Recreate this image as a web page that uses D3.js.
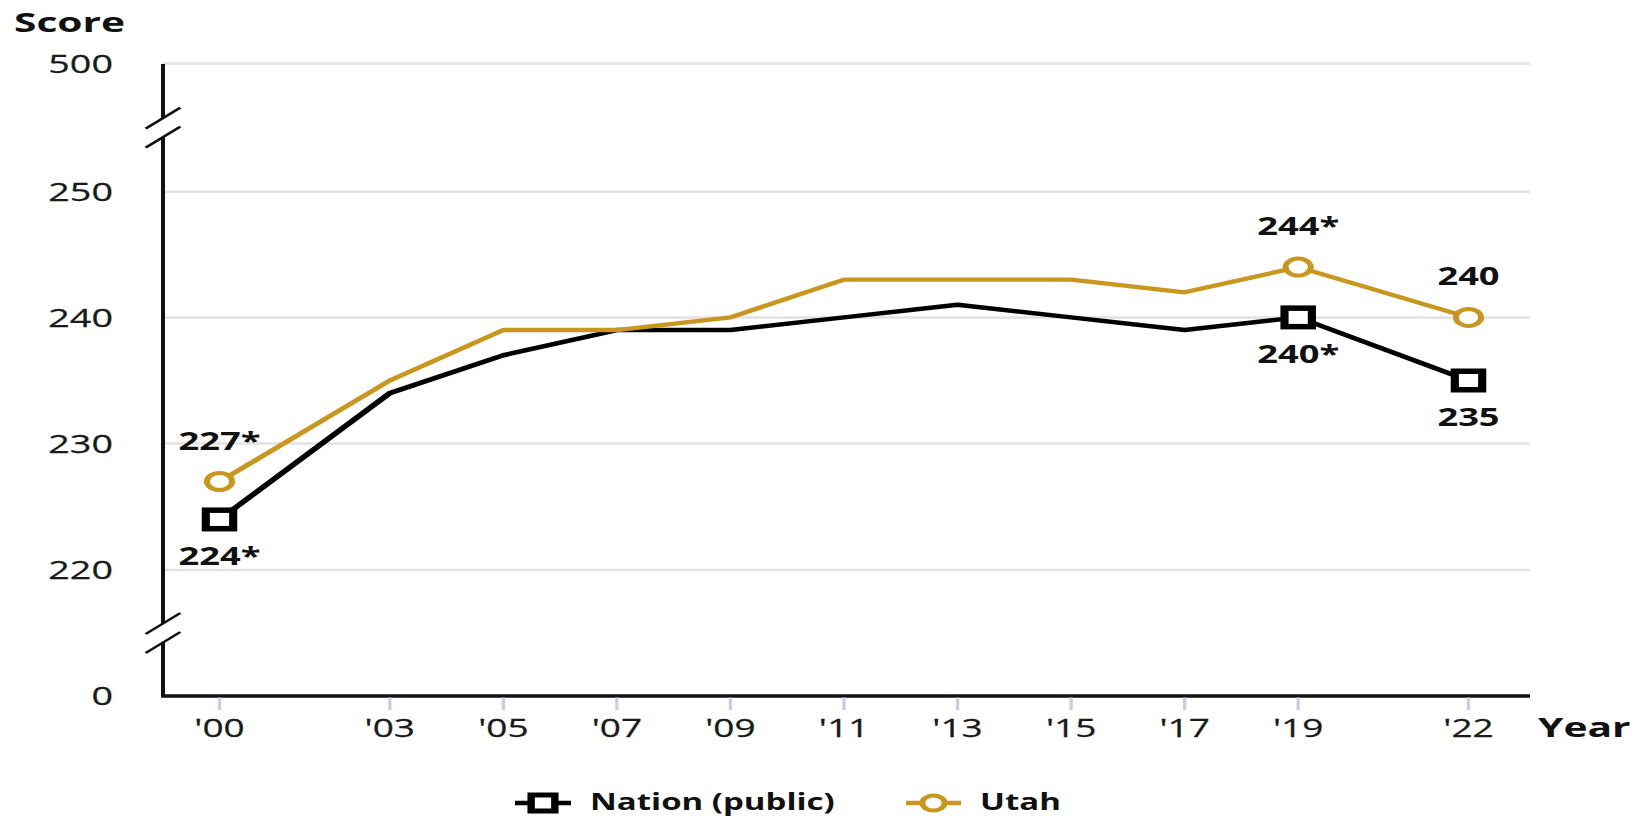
<!DOCTYPE html>
<html><head><meta charset="utf-8">
<script src="https://cdn.jsdelivr.net/npm/d3@7"></script>
<style>html,body{margin:0;padding:0;background:#fff;overflow:hidden}</style>
</head><body><svg id="c"></svg>
<script>
// ---- data ----
const years = [2000, 2003, 2005, 2007, 2009, 2011, 2013, 2015, 2017, 2019, 2022];
const tickLabels = ["'00", "'03", "'05", "'07", "'09", "'11", "'13", "'15", "'17", "'19", "'22"];
const nation = [224, 234, 237, 239, 239, 240, 241, 240, 239, 240, 235];
const utah = [227, 235, 239, 239, 240, 243, 243, 243, 242, 244, 240];
const nationLabels = [["2000", "224*"], ["2019", "240*"], ["2022", "235"]];
const utahLabels = [["2000", "227*"], ["2019", "244*"], ["2022", "240"]];
const yTicks = [0, 220, 230, 240, 250, 500];
const gridValues = [220, 230, 240, 250, 500];
const breakValues = [375, 110];
const seriesNames = ["Nation (public)", "Utah"];

// ---- layout ----
const W = 1643, H = 817, SX = 1.48;
const LW = W / SX;
const GOLD = "#C9961E";
const svg = d3.select("#c").attr("width", W).attr("height", H)
  .attr("viewBox", `0 0 ${LW} ${H}`).attr("preserveAspectRatio", "none");

const axisX = 163 / SX, plotRight = 1530 / SX;
const x = d3.scaleLinear().domain([2000, 2022]).range([219.5 / SX, 1468.5 / SX]);
const y = d3.scaleLinear().domain(yTicks).range([696, 570, 443.6, 317.4, 191.7, 63.5]);
const font = "'Open Sans', 'Noto Sans', sans-serif";

// gridlines
svg.append("g").selectAll("line").data(gridValues).join("line")
  .attr("x1", axisX).attr("x2", plotRight)
  .attr("y1", d => y(d)).attr("y2", d => y(d))
  .attr("stroke", "#e2e2e2").attr("stroke-width", 2.5);

// y tick labels
svg.append("g").selectAll("text").data(yTicks).join("text")
  .attr("x", 113 / SX).attr("y", d => y(d)).attr("dy", "0.36em")
  .attr("text-anchor", "end").attr("font-family", font).attr("font-size", 25.5)
  .attr("fill", "#1a1a1a").attr("stroke", "#1a1a1a").attr("stroke-width", 0.25).text(d => d);

// y axis with breaks
const gapHalf = 9.5, slashHalfW = 11.7, slashRise = 10.5;
const b1 = y(breakValues[0]), b2 = y(breakValues[1]);
const segs = [[y(500) + 0.5, b1 - gapHalf], [b1 + gapHalf, b2 - gapHalf], [b2 + gapHalf, y(0)]];
svg.append("g").selectAll("line").data(segs).join("line")
  .attr("x1", axisX).attr("x2", axisX).attr("y1", d => d[0]).attr("y2", d => d[1])
  .attr("stroke", "#111").attr("stroke-width", 2.7);
const slashes = [];
[b1, b2].forEach(c => { slashes.push(c - gapHalf); slashes.push(c + gapHalf); });
svg.append("g").selectAll("line").data(slashes).join("line")
  .attr("x1", axisX - slashHalfW).attr("x2", axisX + slashHalfW)
  .attr("y1", d => d + slashRise).attr("y2", d => d - slashRise)
  .attr("stroke", "#111").attr("stroke-width", 2.2);

// x axis
svg.append("line").attr("x1", axisX - 1.3).attr("x2", plotRight)
  .attr("y1", y(0)).attr("y2", y(0)).attr("stroke", "#111").attr("stroke-width", 3.3);
svg.append("g").selectAll("line").data(years).join("line")
  .attr("x1", d => x(d)).attr("x2", d => x(d)).attr("y1", 697.5).attr("y2", 710)
  .attr("stroke", "#c6cfe2").attr("stroke-width", 2.2);
svg.append("g").selectAll("text").data(years).join("text")
  .attr("x", d => x(d)).attr("y", 737).attr("text-anchor", "middle")
  .attr("font-family", font).attr("font-size", 25).attr("fill", "#1a1a1a")
  .attr("stroke", "#1a1a1a").attr("stroke-width", 0.25)
  .text((d, i) => tickLabels[i]);

// axis titles
svg.append("text").attr("x", 14 / SX).attr("y", 32).attr("font-family", font)
  .attr("font-weight", 700).attr("font-size", 27.5).attr("fill", "#111").text("Score");
svg.append("text").attr("x", 1538 / SX).attr("y", 737).attr("font-family", font)
  .attr("font-weight", 700).attr("font-size", 27.5).attr("fill", "#111").text("Year");

// lines
const line = d3.line().x((d, i) => x(years[i])).y(d => y(d));
svg.append("path").datum(nation).attr("d", line).attr("fill", "none")
  .attr("stroke", "#000").attr("stroke-width", 4.5).attr("stroke-linejoin", "round");
svg.append("path").datum(utah).attr("d", line).attr("fill", "none")
  .attr("stroke", GOLD).attr("stroke-width", 4.3).attr("stroke-linejoin", "round");

function valOf(arr, yr) { return arr[years.indexOf(+yr)]; }

// markers
const sq = 18.5;
svg.append("g").selectAll("rect").data(nationLabels).join("rect")
  .attr("x", d => x(+d[0]) - sq / 2).attr("y", d => y(valOf(nation, d[0])) - sq / 2)
  .attr("width", sq).attr("height", sq).attr("fill", "#fff")
  .attr("stroke", "#000").attr("stroke-width", 5.5);
svg.append("g").selectAll("circle").data(utahLabels).join("circle")
  .attr("cx", d => x(+d[0])).attr("cy", d => y(valOf(utah, d[0])))
  .attr("r", 8.5).attr("fill", "#fff").attr("stroke", GOLD).attr("stroke-width", 4);

// data labels
svg.append("g").selectAll("text").data(nationLabels).join("text")
  .attr("x", d => x(+d[0])).attr("y", d => y(valOf(nation, d[0])) + 46)
  .attr("text-anchor", "middle").attr("font-family", font).attr("font-weight", 700)
  .attr("font-size", 24.5).attr("fill", "#111").text(d => d[1]);
svg.append("g").selectAll("text").data(utahLabels).join("text")
  .attr("x", d => x(+d[0])).attr("y", d => y(valOf(utah, d[0])) - 32)
  .attr("text-anchor", "middle").attr("font-family", font).attr("font-weight", 700)
  .attr("font-size", 24.5).attr("fill", "#111").text(d => d[1]);

// legend
const legY = 803;
const leg = [
  { name: seriesNames[0], x0: 515 / SX, x1: 571 / SX, tx: 590 / SX, color: "#000", type: "sq" },
  { name: seriesNames[1], x0: 906 / SX, x1: 961 / SX, tx: 980 / SX, color: GOLD, type: "ci" }
];
const lg = svg.append("g").selectAll("g").data(leg).join("g");
lg.append("line").attr("x1", d => d.x0).attr("x2", d => d.x1).attr("y1", legY).attr("y2", legY)
  .attr("stroke", d => d.color).attr("stroke-width", 4.5);
lg.filter(d => d.type === "sq").append("rect")
  .attr("x", d => (d.x0 + d.x1) / 2 - 8).attr("y", legY - 8).attr("width", 16).attr("height", 16)
  .attr("fill", "#fff").attr("stroke", "#000").attr("stroke-width", 5);
lg.filter(d => d.type === "ci").append("circle")
  .attr("cx", d => (d.x0 + d.x1) / 2).attr("cy", legY).attr("r", 7.5)
  .attr("fill", "#fff").attr("stroke", GOLD).attr("stroke-width", 4);
lg.append("text").attr("x", d => d.tx).attr("y", legY + 7.5).attr("font-family", font)
  .attr("font-weight", 700).attr("font-size", 22.3).attr("fill", "#111").text(d => d.name);
</script></body></html>
